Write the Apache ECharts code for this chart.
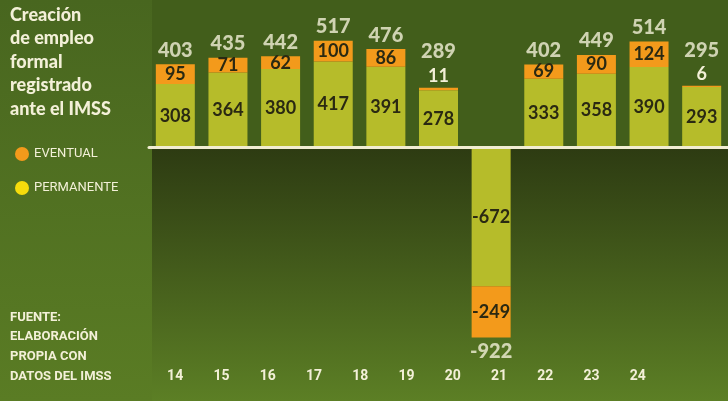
<!DOCTYPE html>
<html><head><meta charset="utf-8">
<script src="https://cdn.jsdelivr.net/npm/echarts@6/dist/echarts.min.js"></script>
<style>html,body{margin:0;padding:0;background:#54721f}#c{width:728px;height:401px}</style>
</head><body><div id="c"></div>
<script>
const years = ['14','15','16','17','18','19','20','21','22','23','24'];
const permanente = [308,364,380,417,391,278,-672,333,358,390,293];
const eventual = [95,71,62,100,86,11,-249,69,90,124,6];
const totales = [403,435,442,517,476,289,-922,402,449,514,295];
const titleLines = ['Creación','de empleo','formal','registrado','ante el IMSS'];
const sourceLines = ['FUENTE:','ELABORACIÓN','PROPIA CON','DATOS DEL IMSS'];

const NARROW = '"Liberation Sans Narrow", Roboto, sans-serif';
const MAIN = 'Lato, "Noto Sans", sans-serif';
const CREAM = '#f3f0d8';
const DARK = '#2a2912';
const ORANGE = '#f39a1b';
const LIME = '#b6bc2a';
const YELLOW = '#f6dc0c';

const chart = echarts.init(document.getElementById('c'));
const smallEv = eventual.map(v => Math.abs(v) < 20);

const option = {
  backgroundColor: 'transparent',
  animation: false,
  grid: [
    {left: 149, right: 0, top: 23.7, height: 330.1},
    {left: 152, width: 509, top: 360, height: 1}
  ],
  xAxis: [
    {type: 'category', data: years, gridIndex: 0, z: 5,
     axisLine: {onZero: true, lineStyle: {color: '#f1edd2', width: 3}},
     axisTick: {show: false}, axisLabel: {show: false}},
    {type: 'category', data: years, gridIndex: 1, position: 'bottom',
     axisLine: {show: false}, axisTick: {show: false},
     axisLabel: {color: CREAM, fontFamily: NARROW, fontWeight: 'bold', fontSize: 14, margin: 8}}
  ],
  yAxis: [
    {type: 'value', min: -1000, max: 600, gridIndex: 0, show: false},
    {type: 'value', gridIndex: 1, show: false}
  ],
  legend: {
    data: [{name: 'EVENTUAL', itemStyle: {color: ORANGE}}, {name: 'PERMANENTE', itemStyle: {color: YELLOW}}],
    orient: 'vertical', left: 10, top: 142, icon: 'circle', itemWidth: 14, itemHeight: 14, itemGap: 20,
    selectedMode: false,
    textStyle: {color: CREAM, fontFamily: NARROW, fontSize: 13}
  },
  series: [
    {name: 'PERMANENTE', type: 'bar', stack: 't', barWidth: 39, data: permanente,
     itemStyle: {color: LIME},
     label: {show: true, position: 'inside', color: DARK, fontFamily: MAIN, fontWeight: 'bold', fontSize: 18}},
    {name: 'EVENTUAL', type: 'bar', stack: 't', barWidth: 39,
     data: eventual.map((v, i) => smallEv[i] ? {value: v, label: {position: 'top', color: CREAM, distance: 3}} : v),
     itemStyle: {color: ORANGE},
     label: {show: true, position: 'inside', color: DARK, fontFamily: MAIN, fontWeight: 'bold', fontSize: 18}},
    {name: 'TOTAL', type: 'scatter', symbolSize: 0, z: 6,
     data: totales.map((v, i) => ({value: v, label: {position: v < 0 ? 'bottom' : 'top', distance: smallEv[i] ? 26 : 4}})),
     label: {show: true, color: CREAM, fontFamily: MAIN, fontWeight: 900, fontSize: 20}}
  ]
};
chart.setOption(option);

const zeroY = chart.convertToPixel({yAxisIndex: 0}, 0);
const W = 728, H = 401, PX = 152;
const gfx = [
  {type: 'rect', z: -10, shape: {x: 0, y: 0, width: PX, height: H},
   style: {fill: new echarts.graphic.LinearGradient(0, 0, 0, 1, [{offset: 0, color: '#48661f'}, {offset: 1, color: '#5a7c24'}])}},
  {type: 'rect', z: -10, shape: {x: PX, y: 0, width: W - PX, height: zeroY},
   style: {fill: '#425e1b'}},
  {type: 'rect', z: -10, shape: {x: PX, y: zeroY, width: W - PX, height: H - zeroY},
   style: {fill: new echarts.graphic.LinearGradient(0, 0, 0, 1, [{offset: 0, color: '#2d3b12'}, {offset: 1, color: '#5c7f25'}])}}
];
titleLines.forEach((t, i) => gfx.push({type: 'text', left: 10, top: 6 + i * 23.5, z: 10,
  style: {text: t, fill: CREAM, fontFamily: MAIN, fontWeight: 900, fontSize: 18}}));
sourceLines.forEach((t, i) => gfx.push({type: 'text', left: 10, top: 311 + i * 19.7, z: 10,
  style: {text: t, fill: CREAM, fontFamily: NARROW, fontWeight: 'bold', fontSize: 13}}));
chart.setOption({graphic: gfx});
</script></body></html>
